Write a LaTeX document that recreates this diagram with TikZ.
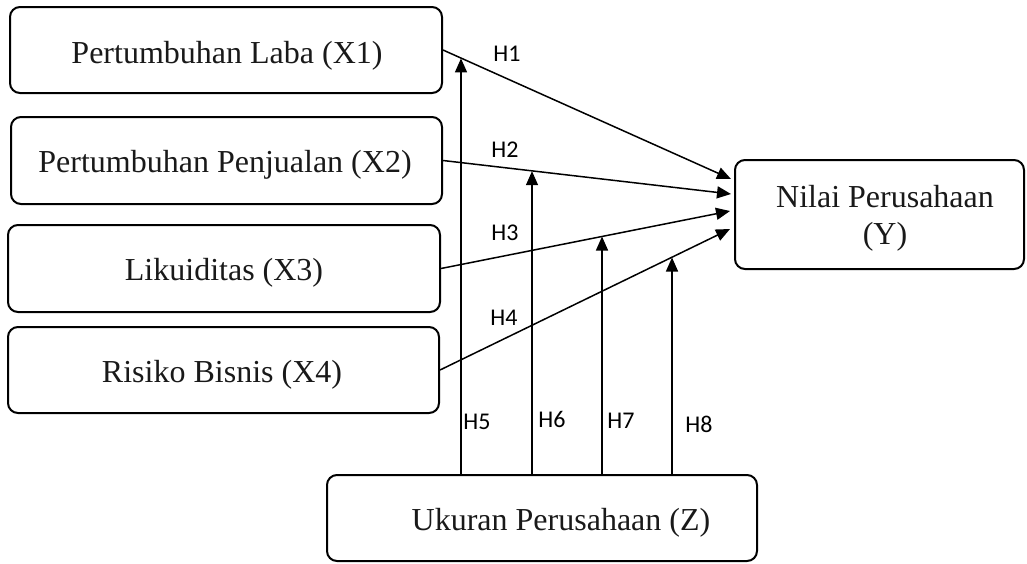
\documentclass[tikz,border=0pt]{standalone}
\usepackage{fontspec}
\setmainfont{Liberation Serif}
\newfontfamily\labfont{Carlito}
\usetikzlibrary{arrows.meta,calc}
\tikzset{
  box/.style={draw, rounded corners=10pt, line width=2pt, rectangle, inner sep=0pt},
  btext/.style={anchor=base, inner sep=0pt, font=\fontsize{32}{37}\selectfont, text=black!90},
  hlab/.style={inner sep=0pt, font=\labfont\fontsize{24}{28}\selectfont},
  arr/.style={line width=1.5pt, -{Triangle[length=14pt,width=12pt]}}
}
\begin{document}
\begin{tikzpicture}[x=1pt,y=-1pt]
\useasboundingbox (0,0) rectangle (1027,563);
% boxes
\node[box, minimum width=432pt, minimum height=86pt] (X1) at (226,50) {};
\node[box, minimum width=431pt, minimum height=87pt] (X2) at (226.5,160.5) {};
\node[box, minimum width=432pt, minimum height=87pt] (X3) at (224,268.5) {};
\node[box, minimum width=431pt, minimum height=86pt] (X4) at (223.5,370) {};
\node[box, minimum width=289pt, minimum height=109pt] (Y) at (879.5,214.5) {};
\node[box, minimum width=430pt, minimum height=86pt] (Z) at (542,518) {};
% box texts
\node[btext] (tX1) at (227,63) {Pertumbuhan Laba (X1)};
\node[btext] (tX2) at (225,172) {Pertumbuhan Penjualan (X2)};
\node[btext] (tX3) at (224,280) {Likuiditas (X3)};
\node[btext] (tX4) at (222,382) {Risiko Bisnis (X4)};
\node[btext] (tY1) at (885,207) {Nilai Perusahaan};
\node[btext] (tY2) at (885,244) {(Y)};
\node[btext] (tZ) at (561,530) {Ukuran Perusahaan (Z)};
% direct paths
\draw[arr] (X1.east) -- ([shift={(-3,-35.5)}]Y.west);
\draw[arr] (X2.east) -- ([shift={(-3,-20.5)}]Y.west);
\draw[arr] (X3.east) -- ([shift={(-4,-3.5)}]Y.west);
\draw[arr] (X4.east) -- ([shift={(-4,14.5)}]Y.west);
% moderation tips
\coordinate (t5) at (461,58.4);
\coordinate (t6) at (532,171.2);
\coordinate (t7) at (602,236.5);
\coordinate (t8) at (672,257.5);
\draw[arr] (Z.north -| t5) -- (t5);
\draw[arr] (Z.north -| t6) -- (t6);
\draw[arr] (Z.north -| t7) -- (t7);
\draw[arr] (Z.north -| t8) -- (t8);
% labels
\node[hlab] (h1) at (507,54) {H1};
\node[hlab] (h2) at (505,150) {H2};
\node[hlab] (h3) at (505,233) {H3};
\node[hlab] (h4) at (504,318) {H4};
\node[hlab] (h5) at (477,422) {H5};
\node[hlab] (h6) at (552,419) {H6};
\node[hlab] (h7) at (621,421) {H7};
\node[hlab] (h8) at (699,424) {H8};
\end{tikzpicture}
\end{document}
